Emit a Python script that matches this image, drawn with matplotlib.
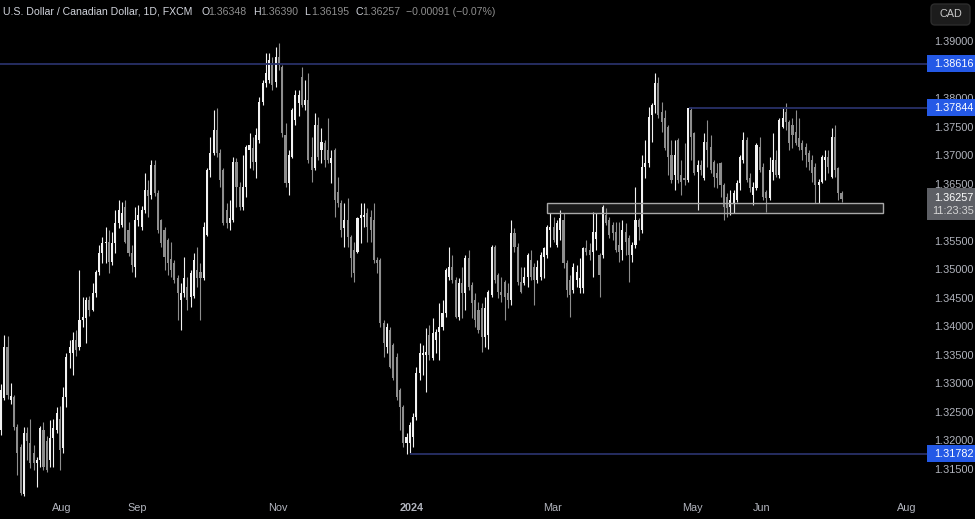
import matplotlib
matplotlib.use("Agg")
import matplotlib.pyplot as plt
import numpy as np
from matplotlib.patches import Rectangle, FancyBboxPatch
from matplotlib.transforms import blended_transform_factory, IdentityTransform

# USD/CAD 1D candles, values in pips above 1.3000 (price = 1.3 + v / 10000)
opens = [220, 276, 366, 272, 278, 225, 190, 108, 215, 197,
         180, 162, 168, 220, 200, 168, 206, 220, 240, 189,
         278, 355, 355, 378, 366, 413, 416, 448, 430, 460,
         497, 530, 548, 550, 515, 548, 583, 579, 611, 570,
         530, 506, 588, 576, 606, 641, 632, 685, 635, 588,
         571, 553, 520, 513, 487, 448, 460, 471, 453, 455,
         501, 497, 487, 562, 676, 706, 746, 706, 676, 606,
         583, 588, 690, 646, 611, 646, 711, 714, 690, 728,
         795, 828, 833, 863, 830, 874, 856, 737, 653, 699,
         763, 793, 839, 790, 798, 699, 679, 755, 711, 723,
         711, 688, 711, 637, 618, 574, 588, 558, 536, 532,
         592, 593, 600, 593, 588, 518, 518, 408, 366, 395,
         369, 348, 290, 261, 197, 197, 208, 243, 320, 352,
         352, 387, 346, 378, 392, 401, 425, 488, 506, 483,
         418, 478, 460, 522, 474, 448, 430, 434, 383, 387,
         457, 541, 492, 462, 480, 460, 448, 565, 541, 480,
         478, 488, 518, 506, 483, 488, 523, 527, 571, 576,
         544, 571, 588, 513, 483, 465, 483, 469, 469, 539,
         536, 532, 555, 527, 527, 597, 588, 579, 567, 544,
         536, 567, 557, 527, 544, 588, 571, 681, 688, 772,
         790, 828, 777, 767, 751, 702, 667, 728, 667, 662,
         658, 781, 741, 672, 685, 662, 725, 716, 690, 670,
         688, 649, 628, 611, 618, 623, 653, 693, 728, 662,
         632, 644, 716, 681, 637, 627, 672, 693, 667, 751,
         777, 760, 755, 742, 732, 723, 716, 706, 693, 681,
         649, 655, 693, 699, 663, 734, 679, 634.8]
highs = [300, 387, 385, 303, 282, 230, 195, 225, 225, 240,
         194, 172, 227, 235, 210, 238, 240, 261, 262, 296,
         355, 378, 392, 395, 501, 453, 453, 455, 478, 501,
         544, 558, 576, 571, 567, 606, 623, 620, 623, 585,
         545, 611, 615, 612, 670, 658, 693, 693, 641, 590,
         575, 556, 550, 518, 492, 478, 523, 488, 500, 530,
         541, 513, 585, 679, 734, 781, 784, 712, 679, 618,
         623, 699, 697, 655, 702, 720, 741, 734, 749, 804,
         833, 881, 881, 874, 891, 898, 860, 758, 710, 784,
         816, 816, 856, 833, 846, 734, 776, 769, 749, 728,
         767, 711, 714, 663, 623, 618, 627, 562, 550, 593,
         618, 618, 609, 606, 618, 523, 522, 413, 408, 401,
         372, 355, 293, 264, 215, 234, 250, 331, 373, 369,
         399, 404, 416, 397, 443, 448, 504, 541, 527, 488,
         487, 506, 527, 536, 480, 460, 444, 443, 453, 465,
         544, 544, 495, 488, 483, 478, 588, 574, 548, 506,
         506, 530, 536, 513, 518, 532, 541, 579, 600, 593,
         588, 606, 600, 518, 492, 513, 509, 522, 541, 553,
         548, 602, 600, 530, 614, 609, 593, 585, 585, 585,
         588, 583, 562, 550, 646, 592, 702, 728, 786, 793,
         846, 839, 795, 781, 755, 728, 728, 732, 693, 723,
         784.4, 786, 742, 693, 693, 741, 763, 737, 693, 688,
         690, 653, 635, 641, 641, 658, 702, 742, 734, 670,
         655, 723, 734, 688, 641, 699, 741, 711, 767, 784,
         793, 763, 767, 781, 767, 728, 723, 711, 702, 688,
         660, 702, 711, 711, 749, 755, 681, 639.0]
lows = [212, 273, 274, 266, 220, 141, 106, 104, 168, 154,
        150, 120, 155, 150, 146, 155, 155, 215, 150, 180,
        261, 329, 317, 350, 360, 401, 373, 420, 428, 453,
        492, 513, 513, 495, 509, 530, 574, 575, 548, 525,
        497, 488, 578, 570, 600, 593, 625, 630, 566, 540,
        501, 492, 488, 478, 413, 395, 453, 430, 436, 451,
        471, 413, 483, 560, 663, 702, 699, 646, 579, 574,
        571, 585, 611, 606, 606, 628, 679, 676, 662, 723,
        790, 821, 828, 816, 821, 851, 734, 646, 632, 697,
        755, 770, 786, 781, 688, 655, 676, 693, 688, 681,
        688, 653, 593, 611, 558, 541, 541, 488, 480, 530,
        548, 576, 550, 550, 513, 495, 401, 348, 355, 328,
        308, 273, 220, 190, 178.2, 180, 190, 238, 308, 317,
        287, 343, 343, 355, 343, 395, 418, 483, 478, 416,
        413, 416, 430, 465, 416, 401, 390, 357, 366, 362,
        453, 478, 451, 444, 413, 434, 439, 532, 474, 460,
        474, 471, 483, 439, 478, 483, 487, 522, 541, 550,
        541, 553, 504, 453, 418, 460, 471, 460, 460, 527,
        518, 488, 536, 453, 522, 579, 557, 553, 532, 515,
        518, 527, 480, 515, 539, 553, 566, 662, 681, 725,
        776, 767, 742, 711, 667, 653, 641, 653, 632, 649,
        655, 693, 667, 606, 667, 658, 681, 670, 646, 644,
        628, 588, 593, 597, 600, 620, 641, 688, 655, 637,
        614, 641, 672, 623, 602, 623, 658, 664, 662, 749,
        746, 711, 714, 720, 711, 693, 681, 676, 655, 618,
        618, 653, 658, 670, 662, 663, 623, 619.5]
closes = [290, 366, 282, 280, 225, 180, 110, 215, 200, 162,
          162, 168, 224, 155, 150, 206, 224, 250, 185, 278,
          348, 366, 378, 360, 413, 418, 448, 430, 460, 497,
          530, 548, 550, 515, 548, 583, 606, 600, 550, 530,
          509, 588, 597, 606, 641, 630, 685, 635, 571, 548,
          523, 513, 501, 483, 460, 460, 487, 448, 495, 518,
          487, 487, 576, 676, 706, 746, 706, 658, 583, 583,
          592, 690, 646, 611, 646, 716, 720, 690, 737, 795,
          828, 846, 868, 825, 874, 860, 741, 653, 702, 781,
          807, 807, 790, 798, 693, 676, 755, 699, 725, 693,
          693, 697, 623, 618, 571, 588, 558, 522, 495, 592,
          597, 597, 576, 571, 518, 513, 408, 373, 401, 331,
          311, 278, 261, 197, 208, 229, 243, 320, 355, 355,
          357, 352, 390, 392, 401, 425, 501, 506, 483, 418,
          478, 460, 522, 471, 443, 413, 395, 383, 434, 462,
          541, 483, 462, 457, 453, 448, 565, 541, 480, 462,
          488, 527, 488, 483, 506, 527, 539, 576, 576, 553,
          583, 592, 513, 465, 457, 506, 497, 487, 539, 532,
          527, 567, 567, 492, 611, 583, 562, 565, 536, 532,
          571, 550, 527, 544, 588, 576, 681, 688, 769, 790,
          828, 772, 760, 714, 699, 658, 702, 658, 655, 658,
          784, 734, 670, 685, 676, 725, 711, 676, 663, 662,
          649, 611, 609, 623, 635, 653, 699, 728, 658, 644,
          646, 720, 676, 628, 627, 676, 693, 667, 763, 767,
          760, 723, 737, 723, 716, 711, 702, 690, 670, 649,
          655, 699, 699, 681, 734, 676, 635, 625.7]

month_labels = ["Aug", "Sep", "Nov", "2024", "Mar", "May", "Jun", "Aug"]
month_bars = [18.7, 41.6, 84.7, 125.7, 168.5, 211.3, 232.7, 277.0]

# 1.385 and 1.360 sit under the level / last-price tags, so they are not shown
price_ticks = [1.390, 1.380, 1.375, 1.370, 1.365, 1.355, 1.350,
               1.345, 1.340, 1.335, 1.330, 1.325, 1.320, 1.315]
levels = [1.38616, 1.37844, 1.31782]
level_from = [-1, 210.5, 125]
zone_low, zone_high = 1.3600, 1.3618
zone_from, zone_to = 167, 269.7

last_price = 1.36257
countdown = "11:23:35"
title = "U.S. Dollar / Canadian Dollar, 1D, FXCM"
ohlc_text = [("O", "1.36348"), ("H", "1.36390"), ("L", "1.36195"), ("C", "1.36257")]
change_text = "\u22120.00091 (\u22120.07%)"

to_price = lambda v: 1.3 + np.asarray(v, dtype=float) / 10000.0
o, h, l, c = to_price(opens), to_price(highs), to_price(lows), to_price(closes)
x = np.arange(len(o))

W, H = 975, 519
FONT = "Liberation Sans"
UP = "#f2f2f2"
DOWN = "#8e8e8e"
TXT = "#b2b5be"
LEVEL = "#283068"
BLUE = "#2459e6"

fig = plt.figure(figsize=(W / 100, H / 100), dpi=100, facecolor="black")
plot_bottom = 497
ax = fig.add_axes([0, (H - plot_bottom) / H, 921 / W, plot_bottom / H])
ax.set_facecolor("black")
ax.set_axis_off()
y_top = 1.39 + 42 / 5707
y_bot = 1.39 - (plot_bottom - 42) / 5707
ax.set_ylim(y_bot, y_top)
ax.set_xlim(-0.3, 281.3)

up = c >= o
col = np.where(up, UP, DOWN)
ax.vlines(x, l, h, colors=col, lw=0.8, zorder=2)
ax.bar(x, np.maximum(np.abs(c - o), 0.00006), bottom=np.minimum(o, c),
       width=0.64, color=col, linewidth=0, zorder=3)

for lv, start in zip(levels, level_from):
    ax.hlines(lv, start, 281.3, color=LEVEL, lw=1.3, zorder=4)

ax.add_patch(Rectangle((zone_from, zone_low), zone_to - zone_from, zone_high - zone_low,
                       facecolor=(0.6, 0.6, 0.6, 0.16), edgecolor="#a8a8a8", lw=1.0, zorder=5))

# price scale
ax2 = fig.add_axes([921 / W, (H - plot_bottom) / H, 54 / W, plot_bottom / H])
ax2.set_facecolor("black")
ax2.set_axis_off()
ax2.set_xlim(921, 975)
ax2.set_ylim(y_bot, y_top)
for t in price_ticks:
    ax2.text(934, t, f"{t:.5f}", color=TXT, fontsize=7.8, family=FONT,
             ha="left", va="center", zorder=1)
box_h = 17 / 5707
for lv in levels:
    ax2.hlines(lv, 921, 927, color=LEVEL, lw=1.3)
    ax2.add_patch(Rectangle((927, lv - box_h / 2), 48, box_h, facecolor=BLUE,
                            edgecolor="none", zorder=3))
    ax2.text(934, lv, f"{lv:.5f}", color="white", fontsize=7.8, family=FONT,
             ha="left", va="center", zorder=4)
gbox_top = 1.39 - (188 - 42) / 5707
gbox_bot = 1.39 - (220 - 42) / 5707
ax2.add_patch(Rectangle((927, gbox_bot), 48, gbox_top - gbox_bot, facecolor="#5d5f65",
                        edgecolor="none", zorder=3))
ax2.text(934, 1.39 - (198 - 42) / 5707, f"{last_price:.5f}", color="white",
         fontsize=7.8, family=FONT, ha="left", va="center", zorder=4)
ax2.text(932, 1.39 - (211 - 42) / 5707, countdown, color="#d6d6d6",
         fontsize=7.8, family=FONT, ha="left", va="center", zorder=4)

# date labels
trans = blended_transform_factory(ax.transData, fig.transFigure)
for lab, b in zip(month_labels, month_bars):
    ax.text(b, 1 - 508 / H, lab, transform=trans, color=TXT, fontsize=7.8, family=FONT,
            ha="center", va="center", clip_on=False,
            fontweight="bold" if lab.isdigit() else "normal")

# header
fy = 1 - 12 / H
fig.text(3 / W, fy, title, color="#d1d4dc", fontsize=7.6, family=FONT, va="center")
for i, (k, v) in enumerate(ohlc_text):
    x0 = 202 + i * 51.3
    fig.text(x0 / W, fy, k, color="#d1d4dc", fontsize=7.6, family=FONT, va="center")
    fig.text((x0 + 6.5) / W, fy, v, color=DOWN, fontsize=7.6, family=FONT, va="center")
fig.text(406 / W, fy, change_text, color=DOWN, fontsize=7.6, family=FONT, va="center")

# currency button
fig.add_artist(FancyBboxPatch((931, H - 25), 39, 21, boxstyle="round,pad=0,rounding_size=4",
                              transform=IdentityTransform(), facecolor="#1c1c1c",
                              edgecolor="#2c2c2c", lw=1))
fig.text(950.5 / W, 1 - 14 / H, "CAD", color="#c8c8c8", fontsize=7.8, family=FONT,
         ha="center", va="center")

fig.savefig("out.png", dpi=100, facecolor="black")
